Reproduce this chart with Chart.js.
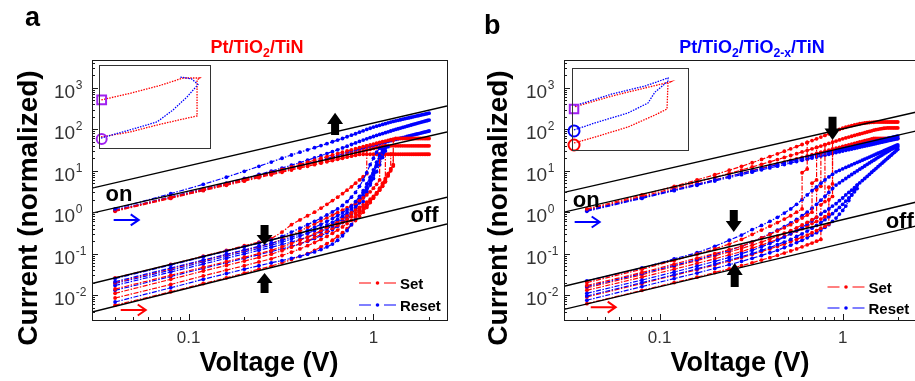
<!DOCTYPE html>
<html>
<head>
<meta charset="utf-8">
<script src="https://cdn.jsdelivr.net/npm/chart.js@4.4.1/dist/chart.umd.min.js"></script>
<style>
html, body { margin:0; padding:0; background:#fff; overflow:hidden; }
#stage { position:relative; width:915px; height:381px; overflow:hidden; font-family:"Liberation Sans", Arial, sans-serif; }
canvas { position:absolute; }
.lbl { position:absolute; white-space:nowrap; line-height:1; font-weight:bold; color:#000; }
.lbl sub { font-size:0.68em; vertical-align:baseline; position:relative; top:0.3em; }
</style>
</head>
<body>
<div id="stage">
  <canvas id="mainA" width="460" height="381" style="left:0;top:0"></canvas>
  <canvas id="mainB" width="470" height="381" style="left:455px;top:0"></canvas>
  <canvas id="insetA" width="131" height="103" style="left:89px;top:55px"></canvas>
  <canvas id="insetB" width="136" height="102" style="left:562px;top:58px"></canvas>

  <div class="lbl" style="left:25px;top:4px;font-size:27px">a</div>
  <div class="lbl" style="left:484px;top:12px;font-size:27px">b</div>
  <div class="lbl" style="left:257px;top:38px;font-size:18px;color:#f00;transform:translateX(-50%)">Pt/TiO<sub>2</sub>/TiN</div>
  <div class="lbl" style="left:752px;top:38px;font-size:18px;color:#00f;transform:translateX(-50%)">Pt/TiO<sub>2</sub>/TiO<sub>2-x</sub>/TiN</div>
  <div class="lbl" style="left:28px;top:208px;font-size:28px;transform:translate(-50%,-50%) rotate(-90deg)">Current (normalized)</div>
  <div class="lbl" style="left:498px;top:208px;font-size:28px;transform:translate(-50%,-50%) rotate(-90deg)">Current (normalized)</div>
  <div class="lbl" style="left:269px;top:362px;font-size:27px;transform:translate(-50%,-50%)">Voltage (V)</div>
  <div class="lbl" style="left:740px;top:362px;font-size:27px;transform:translate(-50%,-50%)">Voltage (V)</div>
</div>

<script>
// sweep voltages (V), 0.04 V steps
var voltage = [0.04,0.08,0.12,0.16,0.2,0.24,0.28,0.32,0.36,0.4,0.44,0.48,0.52,0.56,0.6,0.64,0.68,0.72,0.76,0.8,
  0.84,0.88,0.92,0.96,1.0,1.04,1.08,1.12,1.16,1.2,1.24,1.28,1.32,1.36,1.4,1.44,1.48,1.52,1.56,1.6,
  1.64,1.68,1.72,1.76,1.8,1.84,1.88,1.92,1.96,2.0];

// guide lines (on / off bounds), values at the two ends
var guideV = [0.03, 2.5];
var guidesA = [[3.8, 365], [0.95, 86], [0.019, 2.3], [0.0039, 0.52]];
var guidesB = [[3.0, 258], [1.0, 90], [0.0163, 1.74], [0.0045, 0.46]];

// ---- panel a : Pt/TiO2/TiN ----
// set sweeps starting in the off state ([a,b] = two readings at one voltage, i.e. the jump)
var setOffA = [
  [0.026,0.055,0.087,0.12,0.155,0.19,0.23,0.33,0.5,0.65,0.82,1.0,1.25,1.55,1.9,2.3,2.8,3.4,4.1,5.0,6.0,7.2,[8.5,40]],
  [0.02,0.043,0.068,0.094,0.12,0.147,0.175,0.22,0.28,0.35,0.43,0.52,0.62,0.73,0.85,0.98,1.12,1.28,1.45,1.65,1.9,2.2,2.6,3.1,3.8,4.7,[6,25]],
  [0.014,0.03,0.047,0.064,0.082,0.1,0.12,0.145,0.175,0.21,0.25,0.3,0.36,0.43,0.51,0.6,0.7,0.82,0.96,1.12,1.3,1.5,1.75,2.05,2.4,2.9,3.5,4.3,5.5,7.5,[10,25]],
  [0.011,0.024,0.038,0.052,0.066,0.081,0.097,0.118,0.143,0.172,0.205,0.245,0.29,0.345,0.41,0.485,0.57,0.67,0.79,0.93,1.1,1.3,1.55,1.85,2.25,2.75,3.4,4.2,[5.4,40]],
  [0.0085,0.018,0.029,0.04,0.051,0.063,0.075,0.09,0.108,0.13,0.155,0.185,0.22,0.26,0.31,0.37,0.44,0.53,0.64,0.78,0.95,1.15,1.4,1.75,2.2,2.8,3.6,4.6,6,8,11,[14,55]],
  [0.0057,0.012,0.019,0.026,0.034,0.042,0.05,0.06,0.072,0.086,0.1,0.12,0.145,0.175,0.21,0.26,0.32,0.4,0.5,0.63,0.8,1.0,1.3,1.7,2.2,2.9,3.8,5,6.5,8.5,11,[13,25]]
];
// reset sweeps, return branch through the off state
var resetOffA = [
  [0.025,0.053,0.083,0.114,0.146,0.178,0.21,0.26,0.33,0.41,0.5,0.6,0.72,0.86,1.02,1.2,1.45,1.8,2.3,3.0,4.2,6,9,14,20,28,35],
  [0.021,0.045,0.07,0.096,0.123,0.15,0.178,0.21,0.25,0.3,0.36,0.43,0.51,0.6,0.7,0.82,0.96,1.15,1.4,1.8,2.4,3.3,4.8,7,10.5,16,24,33],
  [0.019,0.04,0.063,0.086,0.11,0.135,0.16,0.19,0.225,0.265,0.31,0.36,0.42,0.49,0.57,0.67,0.8,0.97,1.2,1.55,2.1,2.9,4.1,6,9,13,19,27,36],
  [0.017,0.036,0.056,0.077,0.098,0.12,0.142,0.165,0.19,0.22,0.25,0.29,0.34,0.4,0.47,0.56,0.67,0.82,1.0,1.3,1.7,2.3,3.2,4.5,6.5,9.5,14,21,30,38],
  [0.013,0.028,0.044,0.06,0.077,0.094,0.112,0.13,0.15,0.172,0.2,0.23,0.27,0.32,0.38,0.46,0.56,0.7,0.9,1.2,1.7,2.5,3.8,5.8,9,14,22,32],
  [0.0068,0.015,0.024,0.033,0.042,0.051,0.06,0.068,0.077,0.086,0.097,0.11,0.125,0.145,0.17,0.21,0.27,0.36,0.5,0.72,1.1,1.8,3,5,8,13,20,30]
];
// reset sweeps, forward branch in the on state
var resetOnA = [
  [1.2,2.8,4.7,7.0,9.7,12.8,16.2,20,24,28,32,36,40.5,45,50,55,60,66,72,78,85,92,99,106,113,
   119,125,131,137,143,149,155,160,165,170,175,180,185,190,195,200,205,210,215,220,225,230,235,240,245],
  [1.12,2.35,3.65,5.0,6.5,8.1,9.8,11.6,13.6,15.7,18,20.5,23,26,29,32,35.5,39,43,47,51,55,59,63,67,
   71,75,79,83,87,91,95,99,103,107,111,115,119,123,127,131,135,139,143,147,151,155,159,163,167],
  [1.1,2.25,3.45,4.7,6.0,7.3,8.7,10.1,11.6,13.1,14.7,16.3,18,19.7,21.5,23.3,25.2,27.1,29,31,33,35,37,39,41,
   43,45,47,49,51,53,55,57,59,61,63,65,67,69,71,73,75,77,79,81,83,85,87,89,91]
];
// set sweeps, compliance + return branch in the on state
var setOnA = [
  [1.1,2.3,3.55,4.85,6.2,7.6,9.1,10.7,12.4,14.2,16,18,20,22,24,26,28,30,32,34,36,38,40,42,44,
   46,48,50,52,54,56,58,60,60,60,60,60,60,60,60,60,60,60,60,60,60,60,60,60,60],
  [1.08,2.2,3.4,4.6,5.85,7.1,8.4,9.7,11,12.4,13.8,15.2,16.6,18,19.5,21,22.5,24,25.5,27,28.5,30,31.5,33,34.5,
   36,37.5,39,40,40,40,40,40,40,40,40,40,40,40,40,40,40,40,40,40,40,40,40,40,40],
  [1.05,2.15,3.3,4.45,5.6,6.8,8.0,9.2,10.4,11.6,12.8,14,15.2,16.4,17.6,18.8,20,21.2,22.4,23.6,24.8,25,25,25,25,
   25,25,25,25,25,25,25,25,25,25,25,25,25,25,25,25,25,25,25,25,25,25,25,25,25]
];

// ---- panel b : Pt/TiO2/TiO2-x/TiN ----
var setOffB = [
  [0.02,0.042,0.068,0.097,0.13,0.17,0.22,0.29,0.37,0.46,0.56,0.68,0.82,1.0,[1.2,9],[11,48]],
  [0.017,0.035,0.056,0.078,0.1,0.125,0.15,0.19,0.24,0.29,0.35,0.42,0.5,0.6,0.72,0.85,[1.0,5],[6,36.5]],
  [0.015,0.031,0.049,0.068,0.088,0.11,0.133,0.16,0.19,0.225,0.265,0.31,0.36,0.42,0.49,0.57,0.66,[0.76,3.5],[4.2,27.8]],
  [0.013,0.027,0.042,0.058,0.075,0.093,0.112,0.135,0.16,0.19,0.22,0.26,0.3,0.35,0.4,0.46,0.53,0.6,0.68,0.78,[0.9,4],[4.8,85]],
  [0.009,0.019,0.03,0.041,0.053,0.066,0.08,0.095,0.112,0.13,0.15,0.17,0.195,0.22,0.25,0.28,0.32,0.36,0.41,0.46,[0.52,2],[2.4,33.2]],
  [0.0062,0.013,0.02,0.027,0.035,0.043,0.051,0.06,0.07,0.08,0.091,0.103,0.116,0.13,0.146,0.163,0.18,0.2,[0.22,1.5],[1.8,42.4]]
];
var resetOffB = [
  [0.022,0.045,0.075,0.105,0.15,0.21,0.28,0.38,0.48,0.6,0.75,0.95,1.2,1.55,2.0,2.6,3.3,4.1,5.0,6.0,
   7.1,8.2,9.4,10.2,11.1,12,12.9,13.9,14.9,15.9,16.9,18,19.1,20.2,21.4,22.6,23.8,25.1,26.4,27.7,
   29,30.4,31.8,33.2,34.7,36.2,37.7,39.3,40.9,42],
  [0.016,0.033,0.052,0.072,0.095,0.12,0.15,0.19,0.24,0.3,0.37,0.45,0.55,0.67,0.82,1.0,1.25,1.55,1.95,2.4,
   3.0,3.7,4.5,5.1,5.8,6.5,7.3,8.1,9.0,9.9,10.9,11.9,13,14.2,15.4,16.7,18,19.4,20.9,22.4,
   24,25.6,27.3,29,30.8,32.6,34.4,35.5,36.8,38],
  [0.011,0.023,0.036,0.05,0.065,0.081,0.1,0.12,0.145,0.175,0.21,0.25,0.3,0.36,0.43,0.52,0.62,0.75,0.9,1.05,
   1.2,1.4,1.6,1.89,2.2,2.6,3.0,3.4,3.9,4.5,5.1,5.8,6.5,7.3,8.2,9.2,10.2,11.3,12.5,13.8,
   15.2,16.7,18.3,20,21.8,23.8,25.9,28.1,30.4,33],
  [0.0095,0.02,0.031,0.043,0.056,0.07,0.085,0.1,0.12,0.14,0.165,0.19,0.22,0.26,0.3,0.35,0.41,0.48,0.56,0.66,
   0.78,0.92,1.1,1.3,1.55,1.85,2.2,2.6,3.1,3.7],
  [0.0075,0.016,0.025,0.034,0.044,0.054,0.065,0.077,0.09,0.105,0.12,0.14,0.16,0.185,0.21,0.24,0.28,0.32,0.37,0.43,
   0.5,0.6,0.72,0.9,1.1,1.4,1.9,2.6,3.4,4.5]
];
var resetOnB = [
  [1.1,2.25,3.45,4.7,6.0,7.3,8.6,9.9,11.2,12.6,14,15.4,16.8,18.2,19.6,21,22.4,23.8,25.2,26.6,
   28,29.4,30.8,32.2,33.6,35,36.4,37.8,39.2,40.6,42,43.4,44.8,46.2,47.6,49,50.4,51.8,53.2,54.6,
   56,57.4,58.8,60.2,61.6,63,64.4,65.8,67.2,68.6],
  [1.05,2.15,3.3,4.45,5.65,6.85,8.05,9.25,10.5,11.7,12.9,14.1,15.4,16.6,17.8,19,20.2,21.4,22.6,23.8,
   25,26.2,27.4,28.6,29.8,31,32.2,33.4,34.6,35.8,37,38.2,39.4,40.6,41.8,43,44.2,45.4,46.6,47.8,
   49,50.2,51.4,52.6,53.8,55,56.2,57.4,58.6,59.8]
];
var setOnB = [
  [1.2,2.6,4.2,6.0,8.0,10.3,12.8,15.6,18.7,22,25.6,29.5,33.7,38.2,43,48,53.5,59,65,71,
   78,85,92,99,106,112,118,123,128,132,136,139,142,144,146,147,148,149,150,150,
   150,150,150,150,150,150,150,150,150,150],
  [1.15,2.4,3.8,5.3,6.9,8.6,10.4,12.3,14.3,16.4,18.6,20.9,23.3,25.8,28.4,31,33.7,36.5,39.4,42.4,
   45.5,48.7,52,55.4,58.9,62,65,68,71,74,77,80,83,86,89,92,95,98,100,102,
   104,106,107,108,108,108,108,108,108,108],
  [1.1,2.25,3.45,4.7,6.0,7.3,8.7,10.1,11.6,13.1,14.6,16.2,17.8,19.4,21,22.7,24.4,26.1,27.8,29.6,
   31.4,33.2,35,36.8,38.6,40.4,42.2,44,45.8,47.6,49.4,51.2,53,54.8,56.6,58.4,60,60,60,60,
   60,60,60,60,60,60,60,60,60,60]
];

// insets: one full cycle each (arbitrary units)
var insetASetV = [0.022,0.335,0.627,0.876,1.06,1.06,1.09,0.908,0.66,0.335,0.022];
var insetASetI = [0.34,0.59,1.28,2.3,3.5,189,236,236,103,43,20.6];
var insetAResetV = [0.022,0.443,0.627,0.8,0.951,1.07,1.0,0.876];
var insetAResetI = [0.3,1.03,1.8,6.8,28.7,115,215,264];
var insetBSetV = [0.021,0.238,0.579,0.859,0.983,0.993,1.014,0.755,0.414,0.021];
var insetBSetI = [0.22,0.43,1.32,5.1,10,185,207,106,43,12.5];
var insetBResetV = [0.021,0.238,0.579,0.786,0.859,0.993,0.993,0.755,0.414,0.021];
var insetBResetI = [0.95,2.1,6.4,19.6,67,232,325,132,54,14];

// annotations, in data units
var decorA = { on:[0.042,1.81], off:[1.89,0.58], blueArrow:[0.0393,0.0537,0.65], redArrow:[0.0429,0.0586,0.00435],
  blocks:[[0.62,73,249],[0.2575,0.49,0.161],[0.2575,0.0112,0.034]], legendY:[37,15] };
var decorB = { on:[0.0397,1.34], off:[2.05,0.415], blueArrow:[0.0343,0.047,0.58], redArrow:[0.042,0.0575,0.0051],
  blocks:[[0.88,200,55],[0.254,1.13,0.333],[0.257,0.0156,0.059]], legendY:[33,12] };

var RED = '#ff0000', BLUE = '#0000ff', PURPLE = '#a020f0';
var FONT = '"Liberation Sans", Arial, sans-serif';

function curvePoints(vals) {
  var pts = [];
  vals.forEach(function (v, i) {
    [].concat(v).forEach(function (y) { pts.push({ x: voltage[i], y: y }); });
  });
  return pts;
}
function sweep(vals, color) {
  return { data: curvePoints(vals), borderColor: color, backgroundColor: color, borderWidth: 1.2,
    borderDash: [5, 1.5, 1.5, 1.5], pointRadius: 1.9, pointBorderWidth: 0, pointHoverRadius: 0, tension: 0 };
}
function guide(vals) {
  return { data: guideV.map(function (v, i) { return { x: v, y: vals[i] }; }),
    borderColor: '#000', borderWidth: 1.4, pointRadius: 0, tension: 0 };
}
function interleave(a, b) {
  var out = [];
  for (var i = 0; i < Math.max(a.length, b.length); i++) {
    if (a[i]) out.push(a[i]);
    if (b[i]) out.push(b[i]);
  }
  return out;
}

function tickKind(v) {
  var e = Math.floor(Math.log10(v) + 1e-9);
  var m = v / Math.pow(10, e);
  var r = Math.round(m);
  if (Math.abs(m - r) > 1e-6) return null;
  return { major: r === 1 || r === 10, exp: r === 10 ? e + 1 : e };
}

function blockArrow(ctx, x, yBase, yTip) {
  var dir = yTip > yBase ? 1 : -1, head = Math.abs(yTip - yBase) * 0.5, hw = 8, sw = 4;
  var yh = yTip - dir * head;
  ctx.beginPath();
  ctx.moveTo(x - sw, yBase); ctx.lineTo(x + sw, yBase); ctx.lineTo(x + sw, yh); ctx.lineTo(x + hw, yh);
  ctx.lineTo(x, yTip); ctx.lineTo(x - hw, yh); ctx.lineTo(x - sw, yh);
  ctx.closePath(); ctx.fill();
}
function thinArrow(ctx, x0, x1, y, color) {
  ctx.strokeStyle = color; ctx.lineWidth = 2;
  ctx.beginPath();
  ctx.moveTo(x0, y); ctx.lineTo(x1, y);
  ctx.moveTo(x1 - 8, y - 5.5); ctx.lineTo(x1, y); ctx.lineTo(x1 - 8, y + 5.5);
  ctx.stroke();
}

function makeDecor(d) {
  return {
    id: 'decor',
    afterDatasetsDraw: function (chart) {
      var ctx = chart.ctx, a = chart.chartArea, xs = chart.scales.x, ys = chart.scales.y;
      var X = function (v) { return xs.getPixelForValue(v); }, Y = function (v) { return ys.getPixelForValue(v); };
      ctx.save();
      // frame + inward ticks
      ctx.strokeStyle = '#1a1a1a'; ctx.lineWidth = 1;
      ctx.strokeRect(Math.round(a.left) + 0.5, Math.round(a.top) + 0.5, Math.round(a.right - a.left), Math.round(a.bottom - a.top));
      ctx.beginPath();
      xs.ticks.forEach(function (t) {
        var k = tickKind(t.value); if (!k) return;
        var px = Math.round(X(t.value)) + 0.5;
        ctx.moveTo(px, a.bottom); ctx.lineTo(px, a.bottom - (k.major ? 6 : 3));
      });
      ys.ticks.forEach(function (t) {
        var k = tickKind(t.value); if (!k) return;
        var py = Math.round(Y(t.value)) + 0.5;
        ctx.moveTo(a.left, py); ctx.lineTo(a.left + (k.major ? 6 : 3), py);
      });
      ctx.stroke();
      // tick labels
      ctx.fillStyle = '#333'; ctx.textBaseline = 'alphabetic';
      ys.ticks.forEach(function (t) {
        var k = tickKind(t.value); if (!k || !k.major || k.exp < -2 || k.exp > 3) return;
        var py = Y(t.value), lx = a.left - 38;
        ctx.font = '19px ' + FONT; ctx.textAlign = 'left';
        ctx.fillText('10', lx, py + 10);
        var w = ctx.measureText('10').width;
        ctx.font = '12px ' + FONT;
        ctx.fillText(String(k.exp), lx + w + 0.5, py + 1);
      });
      ctx.font = '17px ' + FONT; ctx.textAlign = 'center';
      xs.ticks.forEach(function (t) {
        var k = tickKind(t.value); if (!k || !k.major) return;
        ctx.fillText(k.exp < 0 ? t.value.toFixed(-k.exp) : String(Math.round(t.value)), X(t.value), a.bottom + 23);
      });
      // on / off
      ctx.fillStyle = '#000'; ctx.font = 'bold 22px ' + FONT;
      ctx.fillText('on', X(d.on[0]), Y(d.on[1]));
      ctx.fillText('off', X(d.off[0]), Y(d.off[1]));
      // arrows
      thinArrow(ctx, X(d.blueArrow[0]), X(d.blueArrow[1]), Y(d.blueArrow[2]), BLUE);
      thinArrow(ctx, X(d.redArrow[0]), X(d.redArrow[1]), Y(d.redArrow[2]), RED);
      ctx.fillStyle = '#000';
      d.blocks.forEach(function (b) { blockArrow(ctx, X(b[0]), Y(b[1]), Y(b[2])); });
      // legend
      [['Set', RED, d.legendY[0]], ['Reset', BLUE, d.legendY[1]]].forEach(function (e) {
        var y = a.bottom - e[2], r = a.right;
        ctx.strokeStyle = e[1]; ctx.fillStyle = e[1]; ctx.lineWidth = 1.2;
        ctx.beginPath();
        ctx.moveTo(r - 88, y); ctx.lineTo(r - 76, y);
        ctx.moveTo(r - 63, y); ctx.lineTo(r - 51, y);
        ctx.stroke();
        ctx.beginPath(); ctx.arc(r - 69.5, y, 1.8, 0, Math.PI * 2); ctx.fill();
        ctx.fillStyle = '#000'; ctx.font = 'bold 15px ' + FONT; ctx.textAlign = 'left';
        ctx.fillText(e[0], r - 47, y + 5.5);
      });
      ctx.restore();
    }
  };
}

function mainChart(id, datasets, decor, axisWidth, padRight) {
  return new Chart(document.getElementById(id), {
    type: 'line',
    data: { datasets: datasets },
    options: {
      responsive: false, animation: false, devicePixelRatio: 1, events: [],
      layout: { padding: { left: 0, top: 60, right: padRight, bottom: 0 } },
      plugins: { legend: { display: false }, tooltip: { enabled: false } },
      scales: {
        x: { type: 'logarithmic', min: 0.03, max: 2.5, ticks: { display: false }, grid: { display: false },
             border: { display: false }, afterFit: function (s) { s.height = 61; } },
        y: { type: 'logarithmic', min: 0.0025, max: 4700, ticks: { display: false }, grid: { display: false },
             border: { display: false }, afterFit: function (s) { s.width = axisWidth; } }
      }
    },
    plugins: [makeDecor(decor)]
  });
}

function insetLine(vs, is, color) {
  return { data: vs.map(function (v, i) { return { x: v, y: is[i] }; }), borderColor: color,
    borderWidth: 1.3, borderDash: [1.5, 1.2], pointRadius: 0, tension: 0 };
}
function insetMark(v, i, color, style, r) {
  return { data: [{ x: v, y: i }], showLine: false, pointStyle: style, pointRadius: r, pointBorderWidth: 2,
    pointBorderColor: color, pointBackgroundColor: 'rgba(0,0,0,0)', borderColor: color, clip: false };
}
function insetChart(id, datasets, pad) {
  return new Chart(document.getElementById(id), {
    type: 'line',
    data: { datasets: datasets },
    options: {
      responsive: false, animation: false, devicePixelRatio: 1, events: [],
      layout: { padding: pad },
      plugins: { legend: { display: false }, tooltip: { enabled: false } },
      scales: {
        x: { type: 'linear', min: 0, max: 1.2, display: false },
        y: { type: 'logarithmic', min: 0.1, max: 1000, display: false }
      }
    },
    plugins: [{
      id: 'insetBox',
      beforeDatasetsDraw: function (chart) {
        var a = chart.chartArea, ctx = chart.ctx;
        ctx.save(); ctx.fillStyle = '#fff'; ctx.fillRect(a.left, a.top, a.right - a.left, a.bottom - a.top); ctx.restore();
      },
      afterDatasetsDraw: function (chart) {
        var a = chart.chartArea, ctx = chart.ctx;
        ctx.save(); ctx.strokeStyle = '#333'; ctx.lineWidth = 1;
        ctx.strokeRect(Math.round(a.left) + 0.5, Math.round(a.top) + 0.5, Math.round(a.right - a.left), Math.round(a.bottom - a.top));
        ctx.restore();
      }
    }]
  });
}

var dsA = guidesA.map(guide)
  .concat(interleave(resetOffA.map(function (c) { return sweep(c, BLUE); }), setOffA.map(function (c) { return sweep(c, RED); })))
  .concat(interleave(resetOnA.map(function (c) { return sweep(c, BLUE); }), setOnA.map(function (c) { return sweep(c, RED); })));
var dsB = guidesB.map(guide)
  .concat(interleave(setOffB.map(function (c) { return sweep(c, RED); }), resetOffB.map(function (c) { return sweep(c, BLUE); })))
  .concat(interleave(setOnB.map(function (c) { return sweep(c, RED); }), resetOnB.map(function (c) { return sweep(c, BLUE); })));

mainChart('mainA', dsA, decorA, 92, 13);
mainChart('mainB', dsB, decorB, 109, 9.5);

insetChart('insetA', [
  insetMark(0.029, 20.6, PURPLE, 'rect', 6.2),
  insetMark(0.029, 0.27, PURPLE, 'circle', 5),
  insetLine(insetAResetV, insetAResetI, BLUE),
  insetLine(insetASetV, insetASetI, RED)
], { left: 10, top: 10, right: 10, bottom: 10 });

insetChart('insetB', [
  insetMark(0.021, 10, PURPLE, 'rect', 6),
  insetMark(0.021, 0.85, BLUE, 'circle', 5.5),
  insetMark(0.021, 0.175, RED, 'circle', 5.5),
  insetLine(insetBResetV, insetBResetI, BLUE),
  insetLine(insetBSetV, insetBSetI, RED)
], { left: 10, top: 10, right: 10, bottom: 10 });
</script>
</body>
</html>
